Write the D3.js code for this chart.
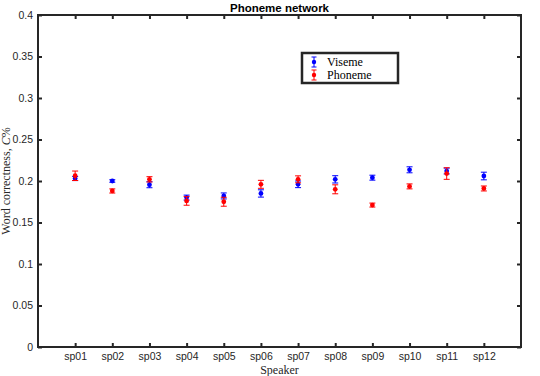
<!DOCTYPE html>
<html><head><meta charset="utf-8">
<script src="https://cdn.jsdelivr.net/npm/d3@7"></script>
<style>body{margin:0;background:#fff}svg{display:block}</style>
</head><body>
<svg id="c" width="540" height="376"></svg>
<script>
const speakers = ["sp01","sp02","sp03","sp04","sp05","sp06","sp07","sp08","sp09","sp10","sp11","sp12"];
const visemeMean = [0.203,0.200,0.1955,0.180,0.182,0.185,0.196,0.202,0.204,0.2135,0.212,0.206];
const visemeErr  = [0.0025,0.0015,0.0036,0.0030,0.0036,0.0044,0.0040,0.0044,0.0030,0.0036,0.0035,0.0046];
const phonemeMean = [0.2063,0.188,0.202,0.176,0.175,0.196,0.202,0.190,0.171,0.1935,0.209,0.191];
const phonemeErr  = [0.0057,0.0025,0.0032,0.0052,0.0054,0.0048,0.0042,0.0054,0.0024,0.0030,0.0070,0.0030];
const yTicks = [0,0.05,0.1,0.15,0.2,0.25,0.3,0.35,0.4];

const svg = d3.select("#c");
const L=38, R=521, T=15, B=347;
const x = d3.scaleLinear().domain([0,13]).range([L,R]);
const y = d3.scaleLinear().domain([0,0.4]).range([B,T]);
const axisCol = "#262626";

// frame
svg.append("rect").attr("x",L).attr("y",T).attr("width",R-L).attr("height",B-T)
  .attr("fill","none").attr("stroke",axisCol).attr("stroke-width",2);

const gx = svg.append("g").attr("transform",`translate(0,${B})`)
  .call(d3.axisBottom(x).tickValues(d3.range(1,13)).tickFormat(i=>speakers[i-1]).tickSizeInner(-4).tickSizeOuter(0).tickPadding(6));
const gxt = svg.append("g").attr("transform",`translate(0,${T})`)
  .call(d3.axisTop(x).tickValues(d3.range(1,13)).tickFormat("").tickSizeInner(-4).tickSizeOuter(0));
const gy = svg.append("g").attr("transform",`translate(${L},0)`)
  .call(d3.axisLeft(y).tickValues(yTicks).tickFormat(d=>d3.format("")(+d.toFixed(2))).tickSizeInner(-4).tickSizeOuter(0).tickPadding(5));
const gyr = svg.append("g").attr("transform",`translate(${R},0)`)
  .call(d3.axisRight(y).tickValues(yTicks).tickFormat("").tickSizeInner(-4).tickSizeOuter(0));
[gx,gxt,gy,gyr].forEach(g=>{
  g.select(".domain").remove();
  g.selectAll(".tick line").attr("stroke",axisCol).attr("stroke-width",2);
  g.selectAll(".tick text").attr("fill",axisCol).attr("font-family","Liberation Sans, Arial, sans-serif").attr("font-size",10.5);
});

function drawSeries(means, errs, col){
  const g = svg.append("g");
  const cw = 3;
  means.forEach((m,i)=>{
    const cx = x(i+1), e = errs[i];
    g.append("line").attr("x1",cx).attr("x2",cx).attr("y1",y(m-e)).attr("y2",y(m+e)).attr("stroke",col).attr("stroke-width",1);
    [m-e,m+e].forEach(v=>g.append("line").attr("x1",cx-cw).attr("x2",cx+cw).attr("y1",y(v)).attr("y2",y(v)).attr("stroke",col).attr("stroke-width",1));
    g.append("circle").attr("cx",cx).attr("cy",y(m)).attr("r",2.4).attr("fill",col);
  });
}
drawSeries(visemeMean, visemeErr, "#0000ff");
drawSeries(phonemeMean, phonemeErr, "#ff0000");

svg.append("text").attr("x",(L+R)/2).attr("y",12).attr("text-anchor","middle")
  .attr("font-family","Liberation Sans, Arial, sans-serif").attr("font-weight","bold").attr("font-size",11.5)
  .attr("fill","#000").text("Phoneme network");

svg.append("text").attr("x",(L+R)/2).attr("y",374).attr("text-anchor","middle")
  .attr("font-family","Liberation Serif, serif").attr("font-size",12).attr("fill",axisCol).text("Speaker");
const yl = svg.append("text").attr("transform",`translate(10,${(T+B)/2}) rotate(-90)`).attr("text-anchor","middle")
  .attr("font-family","Liberation Serif, serif").attr("font-size",12).attr("fill",axisCol);
yl.append("tspan").text("Word correctness, ");
yl.append("tspan").attr("font-style","italic").text("C");
yl.append("tspan").text("%");

const lg = svg.append("g");
lg.append("rect").attr("x",302).attr("y",53).attr("width",96).attr("height",30)
  .attr("fill","#fff").attr("stroke",axisCol).attr("stroke-width",2.5);
const items = [["Viseme","#0000ff",62],["Phoneme","#ff0000",75]];
items.forEach(([t,c,yy])=>{
  const mx=314;
  lg.append("line").attr("x1",mx).attr("x2",mx).attr("y1",yy-5).attr("y2",yy+5).attr("stroke",c).attr("stroke-width",1);
  [yy-5,yy+5].forEach(v=>lg.append("line").attr("x1",mx-2.5).attr("x2",mx+2.5).attr("y1",v).attr("y2",v).attr("stroke",c).attr("stroke-width",1));
  lg.append("circle").attr("cx",mx).attr("cy",yy).attr("r",2.2).attr("fill",c);
  lg.append("text").attr("x",327).attr("y",yy+4).attr("font-family","Liberation Serif, serif").attr("font-size",12).attr("fill","#000").text(t);
});
</script>
</body></html>
